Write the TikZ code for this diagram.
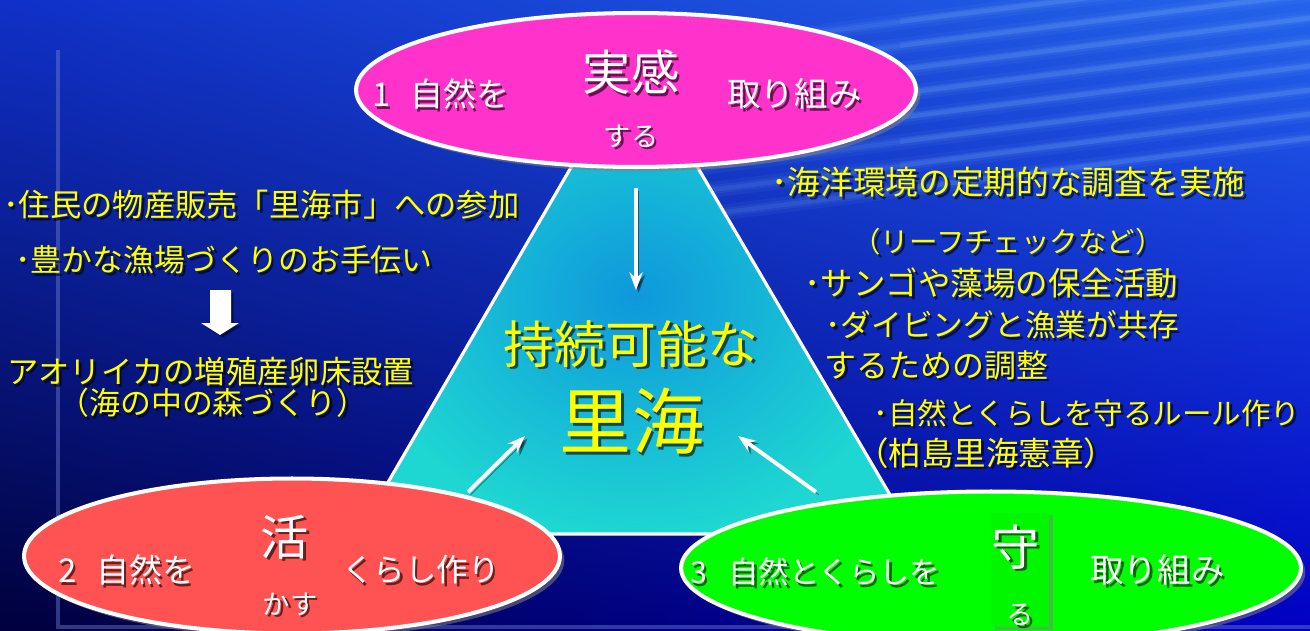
\documentclass[tikz,border=0pt]{standalone}
\usepackage{fontspec}
\setmainfont{Noto Sans CJK JP}
\usetikzlibrary{shapes.geometric,arrows.meta,shadows,shadings}

\definecolor{seaTL}{HTML}{1030C8}
\definecolor{seaTR}{HTML}{2464EA}
\definecolor{seaBL}{HTML}{00003C}
\definecolor{seaBR}{HTML}{0000C4}
\definecolor{streak}{HTML}{8CC4FF}
\definecolor{rim}{HTML}{6C7CD0}
\definecolor{tricyan}{HTML}{1ED6D2}
\definecolor{triblue}{HTML}{0E98DC}
\definecolor{pinkish}{HTML}{FF33CC}
\definecolor{salmon}{HTML}{FF5252}
\definecolor{lime}{HTML}{00FF00}
\definecolor{lemon}{HTML}{FFFF00}

\newcommand{\pt}[1]{\fontsize{#1}{1.15\dimexpr#1pt\relax}\selectfont}

\tikzset{
  oval/.style={ellipse, draw=white, line width=2.3pt, inner sep=0,
    drop shadow={opacity=.55, shadow xshift=2.5pt, shadow yshift=-2.5pt}},
  side/.style={text=lemon, inner sep=0, anchor=west, font=\pt{17.6}},
  lab/.style={text=white, inner sep=0, font=\pt{18.7}},
  key/.style={text=white, inner sep=0, font=\pt{27.5}},
  sub/.style={text=white, inner sep=0, font=\pt{15.5}},
  core/.style={text=lemon, inner sep=0},
  flow/.style={white, line width=2.2pt, -{Stealth[length=10pt,width=7.5pt]},
    preaction={draw=black, opacity=.45, transform canvas={shift={(1.5pt,-1.5pt)}}}},
}

% text with a dark drop shadow
\newcommand{\shtxt}[4]{%
  \node[#2, text=black, text opacity=.6, xshift=1.5pt, yshift=-1.5pt] at (#3) {#4};
  \node[#2] (#1) at (#3) {#4};}

\begin{document}
\begin{tikzpicture}[x=0.02cm, y=-0.02cm]
  \useasboundingbox (0,0) rectangle (1310,631);
  % Background
  \shade[upper left=seaTL, upper right=seaTR, lower left=seaBL, lower right=seaBR]
    (0,0) rectangle (1310,631);
  \foreach \k in {0,...,7} {
    \foreach \w/\o in {9pt/.06, 5pt/.08, 2.5pt/.1}
      \draw[streak, line width=\w, opacity=\o] (640,{55+24*\k}) -- (1310,{-30+24*\k});
    \draw[streak, line width=3pt, opacity=.1] (900,{21+24*\k}) -- (1310,{-30+24*\k});
  }
  \draw[rim, line width=2pt, opacity=.45] (58,50) -- (58,627) -- (1310,627);

  % Triangle
  \coordinate (apex) at (634,59);
  \coordinate (baseL) at (358,534);
  \coordinate (baseR) at (913,534);
  \shade[inner color=triblue, outer color=tricyan] (apex) -- (baseL) -- (baseR) -- cycle;
  \draw[white, line width=1.8pt, line join=round] (apex) -- (baseL) -- (baseR) -- cycle;

  % Arrows into the centre
  \coordinate (fromTop) at (636,188);
  \coordinate (toTop) at (636,290);
  \coordinate (fromLeft) at (468,492);
  \coordinate (toLeft) at (525,436);
  \coordinate (fromRight) at (816,492);
  \coordinate (toRight) at (738,436);
  \draw[flow] (fromTop) -- (toTop);
  \draw[flow] (fromLeft) -- (toLeft);
  \draw[flow] (fromRight) -- (toRight);

  \shtxt{sustain}{core, font=\pt{29}}{631,344}{持続可能な}
  \shtxt{satoumi}{core, font=\pt{41}}{632,421}{里海}

  % Ovals
  \node[oval, fill=pinkish, minimum width=11.2cm, minimum height=3.08cm] (feel) at (636,90) {};
  \node[oval, fill=salmon, minimum width=10.72cm, minimum height=3.1cm] (use) at (292,556) {};
  \node[oval, fill=lime, minimum width=12.4cm, minimum height=3.06cm] (guard) at (991,568) {};
  \node[fill=lime!97!black, inner sep=0, minimum width=1.16cm, minimum height=2.3cm,
    drop shadow={opacity=.5, shadow xshift=2pt, shadow yshift=-1.5pt}] (mamoru) at (1020,570) {};

  \shtxt{feelA}{lab, anchor=west}{372,94}{1\hspace{.6em}自然を}
  \shtxt{feelB}{key}{631,72}{実感}
  \shtxt{feelC}{sub}{631,136}{する}
  \shtxt{feelD}{lab, anchor=west, font=\pt{19.1}}{727,94}{取り組み}

  \shtxt{useA}{lab, anchor=west}{58,570}{2\hspace{.6em}自然を}
  \shtxt{useB}{key}{285,537}{活}
  \shtxt{useC}{sub}{290,604}{かす}
  \shtxt{useD}{lab, anchor=west, font=\pt{17.9}}{342,570}{くらし作り}

  \shtxt{guardA}{lab, anchor=west, font=\pt{17.3}}{690,572}{3\hspace{.7em}自然とくらしを}
  \shtxt{guardB}{key}{1016,547}{守}
  \shtxt{guardC}{sub}{1020,615}{る}
  \shtxt{guardD}{lab, anchor=west, font=\pt{19.1}}{1090,570}{取り組み}

  % Left notes
  \shtxt{noteA}{side, font=\pt{17.8}}{3,205}{･住民の物産販売「里海市」への参加}
  \shtxt{noteB}{side}{15,260}{･豊かな漁場づくりのお手伝い}
  \fill[black, opacity=.45, xshift=1.5pt, yshift=-1.5pt]
    (210,290) -- (231,290) -- (231,323) -- (239,323) -- (220,335) -- (201,323) -- (210,323) -- cycle;
  \fill[white]
    (210,290) -- (231,290) -- (231,323) -- (239,323) -- (220,335) -- (201,323) -- (210,323) -- cycle;
  \shtxt{noteC}{side, font=\pt{17.8}}{7,372}{アオリイカの増殖産卵床設置}
  \shtxt{noteD}{side}{58,403}{（海の中の森づくり）}

  % Right notes
  \shtxt{noteE}{side, font=\pt{18.6}}{771,182}{･海洋環境の定期的な調査を実施}
  \shtxt{noteF}{side, font=\pt{16.2}}{852,242}{（リーフチェックなど）}
  \shtxt{noteG}{side, font=\pt{18.5}}{804,283}{･サンゴや藻場の保全活動}
  \shtxt{noteH}{side, font=\pt{17.5}}{825,325}{･ダイビングと漁業が共存}
  \shtxt{noteI}{side, font=\pt{18.2}}{824,365}{するための調整}
  \shtxt{noteJ}{side, font=\pt{16.8}}{873,413}{･自然とくらしを守るルール作り}
  \shtxt{noteK}{side, font=\pt{18.5}}{856,453}{（柏島里海憲章）}
\end{tikzpicture}
\end{document}
